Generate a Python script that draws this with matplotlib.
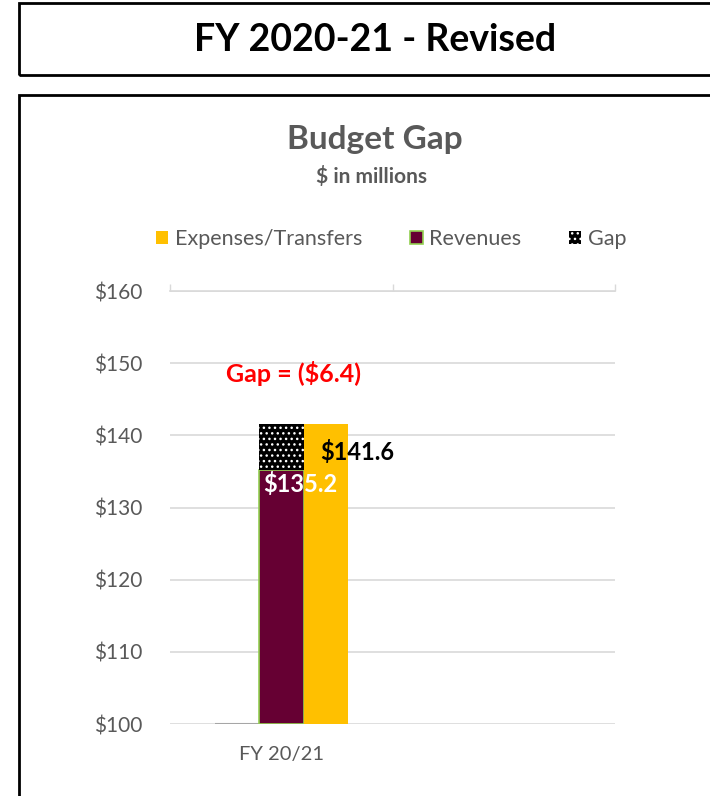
import numpy as np
import matplotlib.pyplot as plt
from matplotlib.patches import Rectangle, Patch

plt.rcParams['font.family'] = ['Lato', 'DejaVu Sans']

# 数据
categories = ['FY 20/21', '']
expenses = [141.6, np.nan]
revenues = [135.2, np.nan]
gap = [6.4, np.nan]
prior = [0.0, np.nan]
y_ticks = [100, 110, 120, 130, 140, 150, 160]

base = 100
gray_txt = '#595959'
w = 0.2

fig = plt.figure(figsize=(7.1, 7.96), dpi=100)

# 外框
fig.patches.append(Rectangle((19 / 710, 1 - 75 / 796), 0.99, 72 / 796, transform=fig.transFigure,
                             fill=False, edgecolor='black', linewidth=2))
fig.patches.append(Rectangle((19 / 710, -0.01), 0.99, 1 - 95 / 796 + 0.01, transform=fig.transFigure,
                             fill=False, edgecolor='black', linewidth=2))
fig.text(375 / 710, 1 - 40 / 796, 'FY 2020-21 - Revised', ha='center', va='center',
         fontsize=27, fontweight='bold', color='black')

ax = fig.add_axes([170 / 710, 1 - 724 / 796, 445 / 710, 433 / 796])
x = np.arange(len(categories))

ax.bar(x - w, prior, w, bottom=base, color='none', edgecolor='#a6a6a6', linewidth=1.5, zorder=3)
ax.bar(x, np.array(revenues) - base, w, bottom=base, color='#660033', edgecolor='#92D050',
       linewidth=1.2, zorder=3)
ax.bar(x, gap, w, bottom=revenues, color='black', edgecolor='white', hatch='...',
       linewidth=0, zorder=3)
ax.bar(x + w, np.array(expenses) - base, w, bottom=base, color='#FFC000', linewidth=0, zorder=3)

# 标签
ax.text(x[0] + w * 0.88, expenses[0] - 3.9, f'${expenses[0]:.1f}', ha='left', va='center',
        fontsize=17, fontweight='bold', color='black', zorder=5)
ax.text(x[0] - w * 0.4, revenues[0] - 2.0, f'${revenues[0]:.1f}', ha='left', va='center',
        fontsize=17, fontweight='bold', color='white', zorder=5)
ax.text(x[0] + 0.054, 148.5, f'Gap = (${gap[0]:.1f})', ha='center', va='center',
        fontsize=18, fontweight='bold', color='red', zorder=5)

ax.set_xlim(-0.5, 1.5)
ax.set_ylim(base, 160)
ax.set_yticks(y_ticks)
ax.set_yticklabels([f'${v}' for v in y_ticks], fontsize=15, color=gray_txt)
ax.set_xticks(x)
ax.set_xticklabels(categories, fontsize=14.5, color=gray_txt)
ax.tick_params(axis='y', length=0, pad=20)
ax.tick_params(axis='x', length=0, pad=16)
ax.set_xticks([-0.5, 0.5, 1.5], minor=True)
ax.tick_params(axis='x', which='minor', top=True, bottom=False, direction='out', length=5,
               color='#d9d9d9', width=1)
ax.grid(axis='y', color='#d9d9d9', linewidth=1.2, zorder=0)
for s in ['left', 'right', 'bottom']:
    ax.spines[s].set_visible(False)
ax.spines['top'].set_color('#d9d9d9')
ax.spines['top'].set_linewidth(1.2)

fig.text(375 / 710, 1 - 139 / 796, 'Budget Gap', ha='center', va='center',
         fontsize=24, fontweight='bold', color=gray_txt)
fig.text(372 / 710, 1 - 176 / 796, '$ in millions', ha='center', va='center',
         fontsize=15, fontweight='bold', color=gray_txt)

handles = [Patch(facecolor='#FFC000', edgecolor='none'),
           Patch(facecolor='#660033', edgecolor='#92D050', linewidth=1.2),
           Patch(facecolor='black', edgecolor='white', hatch='...', linewidth=0)]
fig.legend(handles, ['Expenses/Transfers', 'Revenues', 'Gap'], loc='center',
           bbox_to_anchor=(391 / 710, 1 - 239 / 796), ncol=3, frameon=False,
           fontsize=15.5, labelcolor=gray_txt, handlelength=0.6, handleheight=0.6,
           handletextpad=0.3, columnspacing=2.2)

fig.savefig('out.png', dpi=100)
